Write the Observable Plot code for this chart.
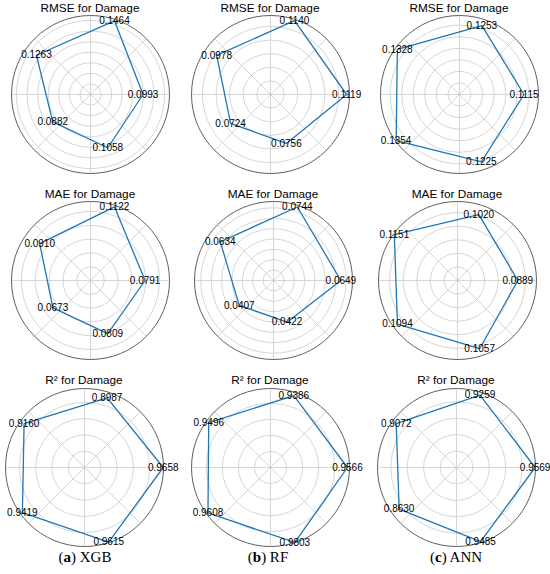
<!DOCTYPE html>
<html><head><meta charset="utf-8">
<script src="https://cdn.jsdelivr.net/npm/d3@7"></script>
<script src="https://cdn.jsdelivr.net/npm/@observablehq/plot@0.6"></script>
<style>
body{margin:0;background:#fff;}
#fig{position:relative;width:550px;height:574px;overflow:hidden;font-family:"Liberation Sans",Arial,sans-serif;}
.panel{position:absolute;}
.title{position:absolute;font-size:11.8px;color:#000;white-space:nowrap;transform:translate(-50%,-50%);line-height:1;}
.cap{position:absolute;font-family:"Liberation Serif","Times New Roman",serif;font-size:15px;color:#000;transform:translate(-50%,-50%);white-space:nowrap;line-height:1;}
</style></head><body><div id="fig"></div>
<script>
// ---- data ----
const models = ["XGB", "RF", "ANN"];
const captionLetters = ["a", "b", "c"];
const metricTitles = ["RMSE for Damage", "MAE for Damage", "R² for Damage"];
const axisAngles = [0, 72, 144, 216, 288];   // degrees, counter-clockwise from east
const rmseXGB = [0.0993, 0.1464, 0.1263, 0.0882, 0.1058];
const rmseRF  = [0.1119, 0.1140, 0.0978, 0.0724, 0.0756];
const rmseANN = [0.1115, 0.1253, 0.1328, 0.1354, 0.1225];
const maeXGB  = [0.0791, 0.1122, 0.0910, 0.0673, 0.0809];
const maeRF   = [0.0649, 0.0744, 0.0634, 0.0407, 0.0422];
const maeANN  = [0.0889, 0.1020, 0.1151, 0.1094, 0.1057];
const r2XGB   = [0.9658, 0.8987, 0.9160, 0.9419, 0.9615];
const r2RF    = [0.9566, 0.9386, 0.9496, 0.9608, 0.9803];
const r2ANN   = [0.9569, 0.9259, 0.9072, 0.8630, 0.9485];
const grid = [[rmseXGB, rmseRF, rmseANN], [maeXGB, maeRF, maeANN], [r2XGB, r2RF, r2ANN]];
const spokeAngles = [0, 45, 90, 135, 180, 225, 270, 315];

// ---- layout ----
const centers = [
  [[90, 94], [270, 94], [459, 94]],
  [[90, 280], [273, 280], [457, 280]],
  [[84, 467], [270, 467], [456, 467]]
];
const titleY = [9, 195, 381];
const captionY = 557;
const captionX = [85, 268, 456];
const R = 79;
const pad = 36;

function niceStep(rmax) {
  const raw = rmax / 8;
  const p = Math.pow(10, Math.floor(Math.log10(raw)));
  for (const s of [1, 2, 2.5, 5, 10]) if (s * p >= raw - 1e-12) return s * p;
  return 10 * p;
}

const fig = document.getElementById("fig");
const rad = (d) => d * Math.PI / 180;

grid.forEach((row, i) => row.forEach((vals, j) => {
  const [cx, cy] = centers[i][j];
  const vmax = d3.max(vals), vmin = d3.min(vals);
  const rmax = vmax + 0.05 * (vmax - vmin);
  const step = niceStep(rmax);
  const rings = d3.range(step, rmax - step * 0.05, step);
  const pts = vals.map((v, k) => ({v, a: axisAngles[k]}));
  const closed = [...pts, pts[0]];
  const spokes = spokeAngles.map(a => ({a}));
  const size = 2 * R + 2 * pad;
  const chart = Plot.plot({
    width: size, height: size,
    marginLeft: pad, marginRight: pad, marginTop: pad, marginBottom: pad,
    x: {domain: [-rmax, rmax], axis: null},
    y: {domain: [-rmax, rmax], axis: null},
    r: {type: "linear", domain: [0, rmax], range: [0, R]},
    style: {overflow: "visible", background: "transparent", fontFamily: "'Liberation Sans', Arial, sans-serif"},
    marks: [
      Plot.link(spokes, {x1: 0, y1: 0, x2: d => rmax * Math.cos(rad(d.a)), y2: d => rmax * Math.sin(rad(d.a)), stroke: "#cccccc", strokeWidth: 0.8}),
      Plot.dot(rings, {x: 0, y: 0, r: d => d, stroke: "#cccccc", strokeWidth: 0.8, fill: "none"}),
      Plot.dot([rmax], {x: 0, y: 0, r: d => d, stroke: "#4d4d4d", strokeWidth: 0.9, fill: "none"}),
      Plot.line(closed, {x: d => d.v * Math.cos(rad(d.a)), y: d => d.v * Math.sin(rad(d.a)), stroke: "#1f77b4", strokeWidth: 1.3}),
      Plot.text(pts, {x: d => d.v * Math.cos(rad(d.a)), y: d => d.v * Math.sin(rad(d.a)), text: d => d.v.toFixed(4), fontSize: 10, fill: "#000"})
    ]
  });
  chart.classList.add("panel");
  chart.style.left = (cx - R - pad) + "px";
  chart.style.top = (cy - R - pad) + "px";
  fig.appendChild(chart);
  const t = document.createElement("div");
  t.className = "title";
  t.textContent = metricTitles[i];
  t.style.left = cx + "px";
  t.style.top = titleY[i] + "px";
  fig.appendChild(t);
}));

models.forEach((m, j) => {
  const c = document.createElement("div");
  c.className = "cap";
  c.innerHTML = "(<b>" + captionLetters[j] + "</b>) " + m;
  c.style.left = captionX[j] + "px";
  c.style.top = captionY + "px";
  fig.appendChild(c);
});
</script>
</body></html>
